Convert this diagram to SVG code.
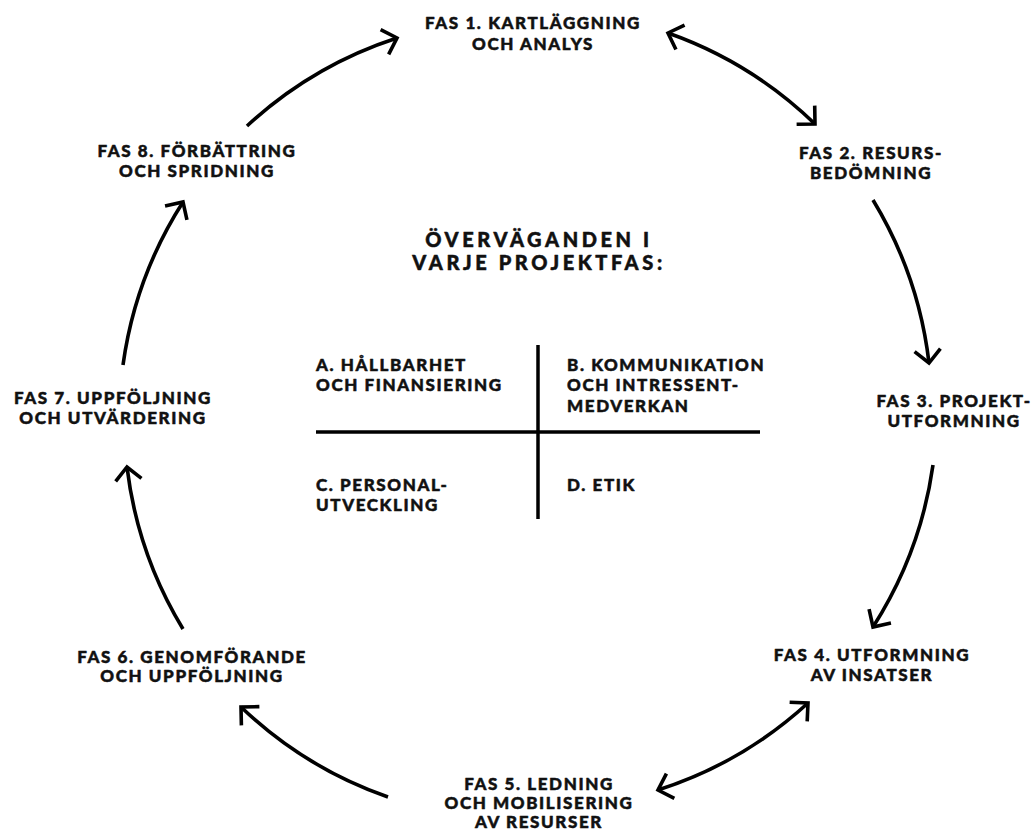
<svg xmlns="http://www.w3.org/2000/svg" width="1033" height="832" viewBox="0 0 1033 832">
<style>
.lbl{font-family:Lato,"Noto Sans","DejaVu Sans",sans-serif;font-weight:900;font-size:17px;letter-spacing:1.6px;fill:#111;stroke:#111;stroke-width:0.5;stroke-linejoin:round;text-anchor:middle}
.q{text-anchor:start}
.title{font-size:20px;letter-spacing:3.6px}
.arc{fill:none;stroke:#000;stroke-width:3.6;stroke-linecap:butt}
.grid{stroke:#000;stroke-width:3.5}
</style>
<defs>
<marker id="ah" markerUnits="userSpaceOnUse" markerWidth="40" markerHeight="40" viewBox="-20 -20 40 40" refX="0" refY="0" orient="auto-start-reverse">
<path d="M -13 -13 L 0 0 L -13 13" fill="none" stroke="#000" stroke-width="3.6" stroke-linejoin="miter"/>
</marker>
</defs>
<rect width="1033" height="832" fill="#fff"/>
<g id="connectors">
<path class="arc" d="M 247 126 A 405 405 0 0 1 397 38" marker-end="url(#ah)"/>
<path class="arc" d="M 668 33 A 405 405 0 0 1 815 124" marker-start="url(#ah)" marker-end="url(#ah)"/>
<path class="arc" d="M 873 200 A 405 405 0 0 1 929 363" marker-end="url(#ah)"/>
<path class="arc" d="M 933 465 A 405 405 0 0 1 873 627" marker-end="url(#ah)"/>
<path class="arc" d="M 808 703 A 405 405 0 0 1 658 790" marker-start="url(#ah)" marker-end="url(#ah)"/>
<path class="arc" d="M 388 797 A 405 405 0 0 1 241 707" marker-end="url(#ah)"/>
<path class="arc" d="M 183 629 A 405 405 0 0 1 127 467" marker-end="url(#ah)"/>
<path class="arc" d="M 123 365 A 405 405 0 0 1 183 202" marker-end="url(#ah)"/>
</g>
<g id="fas1"><text class="lbl" x="533" y="29">FAS 1. KARTLÄGGNING</text><text class="lbl" x="533" y="50">OCH ANALYS</text></g>
<g id="fas2"><text class="lbl" x="871" y="159">FAS 2. RESURS-</text><text class="lbl" x="871" y="179">BEDÖMNING</text></g>
<g id="fas3"><text class="lbl" x="954" y="407">FAS 3. PROJEKT-</text><text class="lbl" x="954" y="427">UTFORMNING</text></g>
<g id="fas4"><text class="lbl" x="872" y="661">FAS 4. UTFORMNING</text><text class="lbl" x="872" y="681">AV INSATSER</text></g>
<g id="fas5"><text class="lbl" x="539" y="790">FAS 5. LEDNING</text><text class="lbl" x="539" y="809">OCH MOBILISERING</text><text class="lbl" x="539" y="828">AV RESURSER</text></g>
<g id="fas6"><text class="lbl" x="192" y="663">FAS 6. GENOMFÖRANDE</text><text class="lbl" x="192" y="682">OCH UPPFÖLJNING</text></g>
<g id="fas7"><text class="lbl" x="113" y="404">FAS 7. UPPFÖLJNING</text><text class="lbl" x="113" y="424">OCH UTVÄRDERING</text></g>
<g id="fas8"><text class="lbl" x="197" y="157">FAS 8. FÖRBÄTTRING</text><text class="lbl" x="197" y="177">OCH SPRIDNING</text></g>
<g id="center">
<text class="lbl title" x="539" y="247">ÖVERVÄGANDEN I</text>
<text class="lbl title" x="539" y="270">VARJE PROJEKTFAS:</text>
<line class="grid" x1="538" y1="345" x2="538" y2="519"/>
<line class="grid" x1="316" y1="432" x2="760" y2="432"/>
</g>
<g id="qa"><text class="lbl q" x="316" y="371">A. HÅLLBARHET</text><text class="lbl q" x="316" y="391">OCH FINANSIERING</text></g>
<g id="qb"><text class="lbl q" x="567" y="371">B. KOMMUNIKATION</text><text class="lbl q" x="567" y="391">OCH INTRESSENT-</text><text class="lbl q" x="567" y="412">MEDVERKAN</text></g>
<g id="qc"><text class="lbl q" x="316" y="491">C. PERSONAL-</text><text class="lbl q" x="316" y="511">UTVECKLING</text></g>
<g id="qd"><text class="lbl q" x="567" y="491">D. ETIK</text></g>
</svg>
